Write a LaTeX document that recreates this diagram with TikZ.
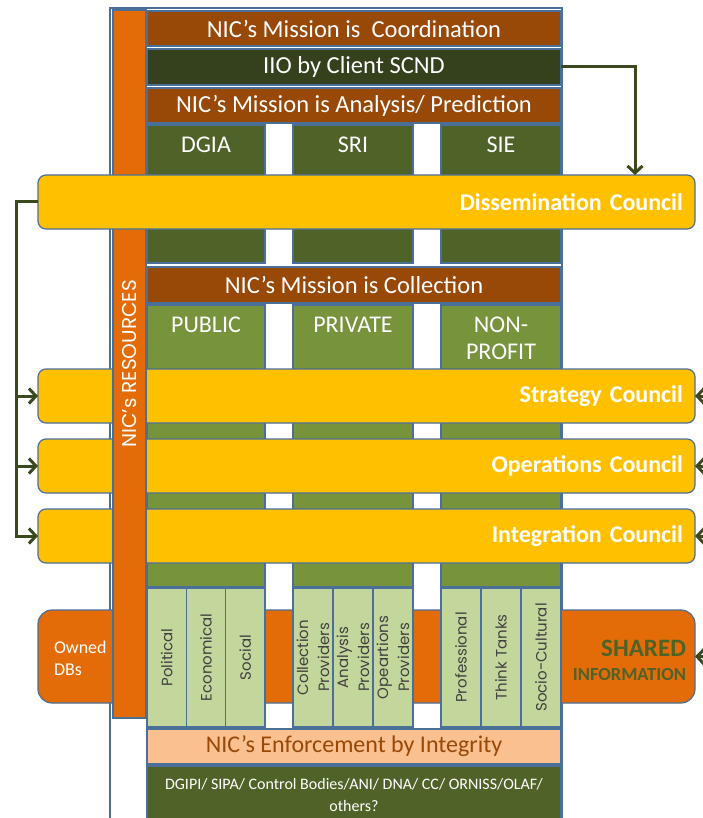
\documentclass[tikz,border=0pt]{standalone}
\usepackage{fontspec}
\setmainfont{Carlito}
\newfontfamily\geofont{Poppins}
\usetikzlibrary{arrows.meta}
\definecolor{edge}{HTML}{4A6F99}
\definecolor{brownrow}{HTML}{984807}
\definecolor{iiogreen}{HTML}{35411C}
\definecolor{darkcol}{HTML}{4F6228}
\definecolor{midcol}{HTML}{77933C}
\definecolor{palecol}{HTML}{C3D69B}
\definecolor{subtext}{HTML}{404040}
\definecolor{peach}{HTML}{FAC090}
\definecolor{council}{HTML}{FFC000}
\definecolor{res}{HTML}{E36C09}
\definecolor{arrowgreen}{HTML}{3B4A1E}
\definecolor{sharedgreen}{HTML}{4F6228}
\begin{document}
\begin{tikzpicture}[x=1pt, y=-1pt,
    every node/.style = {inner sep=0pt, outer sep=0pt},
    box/.style = {draw=edge, line width=1.2pt, minimum width=414pt},
    mission/.style = {box, fill=brownrow, text=white, minimum height=35pt, font=\fontsize{24.5}{28}\selectfont},
    coltext/.style = {text=white, align=center, anchor=north, yshift=-12pt, font=\fontsize{24}{27}\selectfont},
    topcol/.style = {draw=edge, line width=1.2pt, label={[coltext]north:#1}},
    sub/.style = {draw=edge, line width=1.2pt, fill=palecol, rotate=90, minimum width=139pt, minimum height=40pt,
                  text=subtext, align=center, font=\geofont\fontsize{15}{21}\selectfont},
    council/.style = {draw=edge, line width=1.2pt, fill=council, rounded corners=8pt, minimum height=54pt,
                      text width=633pt, inner xsep=12pt, align=right, text=white, font=\bfseries\fontsize{24}{28}\selectfont},
    link/.style = {draw=arrowgreen, line width=3pt, -{Straight Barb[length=7pt, width=15pt]}}
  ]
  \useasboundingbox (0,0) rectangle (703,818);

  % frame and resource band
  \node[draw=edge, line width=1.2pt, fill=white, minimum width=452pt, minimum height=830pt] (frame) at (336,423) {};
  \node[draw=edge, line width=1.2pt, fill=res, rounded corners=14pt, minimum width=657pt, minimum height=93pt] (band) at (366.5,656.5) {};
  \node[anchor=west, align=left, text=white, font=\fontsize{18}{22}\selectfont] (owned) at (54,658) {Owned\\DBs};
  \node[anchor=east, align=right, text=sharedgreen, font=\bfseries\fontsize{25}{24}\selectfont] (shared) at (686,660)
    {SHARED\\{\fontsize{18.5}{24}\selectfont INFORMATION}};

  % missions
  \node[mission] (coord) at (354,28.5) {NIC’s Mission is \ Coordination};
  \node[box, fill=iiogreen, text=white, minimum height=36pt, font=\fontsize{24.5}{28}\selectfont] (iio) at (354,67) {IIO by Client SCND};
  \node[mission] (analysis) at (354,105.5) {NIC’s Mission is Analysis/ Prediction};

  % agencies
  \node[topcol=DGIA, fill=darkcol, minimum width=118pt, minimum height=138pt] (dgia) at (206,194) {};
  \node[topcol=SRI, fill=darkcol, minimum width=120pt, minimum height=138pt] (sri) at (353,194) {};
  \node[topcol=SIE, fill=darkcol, minimum width=120pt, minimum height=138pt] (sie) at (501,194) {};

  \node[mission, minimum height=36pt] (collection) at (354,285) {NIC’s Mission is Collection};

  % sectors
  \node[topcol=PUBLIC, fill=midcol, minimum width=118pt, minimum height=282pt] (public) at (206,446) {};
  \node[topcol=PRIVATE, fill=midcol, minimum width=120pt, minimum height=282pt] (private) at (353,446) {};
  \node[topcol={NON-\\PROFIT}, fill=midcol, minimum width=120pt, minimum height=282pt] (nonprofit) at (501,446) {};

  \node[sub, minimum height=39.3pt] (political) at (166.7,657.5) {Political};
  \node[sub, minimum height=39.3pt] (economical) at (206,657.5) {Economical};
  \node[sub, minimum height=39.3pt] (social) at (245.3,657.5) {Social};
  \node[sub] (collprov) at (313,657.5) {Collection\\Providers};
  \node[sub] (anaprov) at (353,657.5) {Analysis\\Providers};
  \node[sub] (opprov) at (393,657.5) {Opeartions\\Providers};
  \node[sub] (professional) at (461,657.5) {Professional};
  \node[sub] (thinktanks) at (501,657.5) {Think Tanks};
  \node[sub] (sociocult) at (541,657.5) {Socio-Cultural};

  % enforcement
  \node[box, fill=peach, text=brownrow, minimum height=35pt, font=\fontsize{24}{28}\selectfont] (enforce) at (354,746.5) {NIC’s Enforcement by Integrity};
  \node[box, fill=darkcol, text=white, minimum height=58pt, align=center, font=\fontsize{16}{22}\selectfont] (bodies) at (354,795)
    {DGIPI/ SIPA/ Control Bodies/ANI/ DNA/ CC/ ORNISS/OLAF/\\others?};

  % councils
  \node[council] (strategy) at (366.5,396) {Strategy Council};
  \node[council] (operations) at (366.5,466) {Operations Council};
  \node[council] (integration) at (366.5,536) {Integration Council};

  \node[draw=edge, line width=1.2pt, fill=res, minimum width=33pt, minimum height=708pt] (resources) at (129.5,364) {};
  \node[rotate=90, text=white, font=\geofont\fontsize{20}{24}\selectfont] (reslabel) at (130,364) {NIC’s RESOURCES};

  \node[council] (dissemination) at (366.5,202) {Dissemination Council};

  % flows
  \coordinate (bus) at (16,202);
  \draw[link] (iio.east) -| ([xshift=-60pt]dissemination.north east);
  \draw[link] (dissemination.west) -- (bus) |- (integration.west);
  \draw[link] (bus) |- (strategy.west);
  \draw[link] (bus) |- (operations.west);
  \coordinate (in1) at (730,396);
  \coordinate (in2) at (730,466);
  \coordinate (in3) at (730,536);
  \coordinate (in4) at (730,657);
  \draw[link] (in1) -- (strategy.east);
  \draw[link] (in2) -- (operations.east);
  \draw[link] (in3) -- (integration.east);
  \draw[link] (in4) -- (band.east);
\end{tikzpicture}
\end{document}
